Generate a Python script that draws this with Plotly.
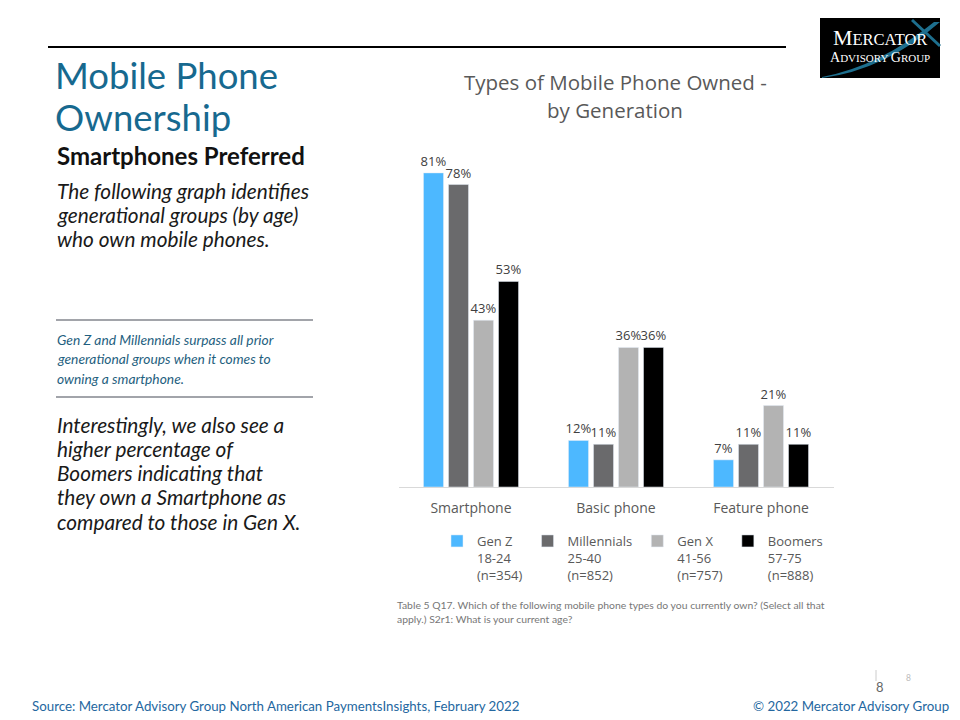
import plotly.graph_objects as go

# ---- data ----
categories = ["Smartphone", "Basic phone", "Feature phone"]
series_names = ["Gen Z<br>18-24<br>(n=354)", "Millennials<br>25-40<br>(n=852)",
                "Gen X<br>41-56<br>(n=757)", "Boomers<br>57-75<br>(n=888)"]
gen_z = [81, 12, 7]
millennials = [78, 11, 11]
gen_x = [43, 36, 21]
boomers = [53, 36, 11]
series_values = [gen_z, millennials, gen_x, boomers]
series_colors = ["#4DB8FF", "#6A6A6C", "#B3B3B3", "#000000"]

# page has an 8px body margin; figure sized to fit inside it
OFF = 8
W, H = 960 - OFF, 720 - OFF
def px(x):
    return (x - OFF) / W
def py(y):
    return 1 - (y - OFF) / H

CAL = "Open Sans, Lato, sans-serif"
LATO = "Lato, Open Sans, sans-serif"

fig = go.Figure()
for name, vals, col in zip(series_names, series_values, series_colors):
    fig.add_trace(go.Bar(
        x=categories, y=vals, name=name, marker_color=col,
        text=[f"{v}%" for v in vals], textposition="outside", constraintext="none",
        textfont=dict(family=CAL, size=13, color="#404040"),
        cliponaxis=False, hoverinfo="skip",
    ))

ann = []
def A(x, y, text, size, color="#222", family=LATO, xanchor="left", yanchor="middle", align="left"):
    ann.append(dict(x=px(x), y=py(y), xref="paper", yref="paper", text=text, showarrow=False,
                    xanchor=xanchor, yanchor=yanchor, align=align,
                    font=dict(size=size, color=color, family=family)))

# left column text
A(53, 75, "Mobile Phone", 36.5, "#17698F")
A(53, 117, "Ownership", 36.5, "#17698F")
A(55, 156, "<b>Smartphones Preferred</b>", 24, "#111")
for i, t in enumerate(["<i>The following graph identifies</i>",
                       "<i>generational groups (by age)</i>",
                       "<i>who own mobile phones.</i>"]):
    A(55, 190 + 24 * i, t, 20.8, "#1a1a1a")
for i, t in enumerate(["<i>Gen Z and Millennials surpass all prior</i>",
                       "<i>generational groups when it comes to</i>",
                       "<i>owning a smartphone.</i>"]):
    A(55, 340 + 19 * i, t, 13.8, "#1F5F80")
for i, t in enumerate(["<i>Interestingly, we also see a</i>",
                       "<i>higher percentage of</i>",
                       "<i>Boomers indicating that</i>",
                       "<i>they own a Smartphone as</i>",
                       "<i>compared to those in Gen X.</i>"]):
    A(55, 424 + 24.3 * i, t, 20.8, "#1a1a1a")

# chart title
A(615, 82, "Types of Mobile Phone Owned -", 20.5, "#595959", CAL, "center")
A(615, 110, "by Generation", 20.5, "#595959", CAL, "center")

# footnote (two lines in one block)
A(395, 612, "Table 5 Q17. Which of the following mobile phone types do you currently own? (Select all that"
  "<br>apply.) S2r1: What is your current age?", 10.4, "#777", LATO)

# footer
A(30, 706, "Source: Mercator Advisory Group North American PaymentsInsights, February 2022", 13.3, "#2467A0")
A(951, 706, "© 2022 Mercator Advisory Group", 13.3, "#2467A0", LATO, "right")
A(880, 687, "8", 13, "#666", LATO, "center")
A(908, 678, "8", 8.5, "#bbb", LATO, "center")

# logo text
A(880, 45, "<span style='font-size:22px'>M</span><span style='font-size:16.5px'>ERCATOR</span><br>"
           "<span style='font-size:14px'>A</span><span style='font-size:11px'>DVISORY </span>"
           "<span style='font-size:14px'>G</span><span style='font-size:11px'>ROUP</span>",
  13, "white", "Liberation Serif, DejaVu Serif, serif", "center", align="center")

shapes = [
    dict(type="line", xref="paper", yref="paper", x0=px(48), x1=px(786), y0=py(47), y1=py(47),
         line=dict(color="black", width=2)),
    dict(type="line", xref="paper", yref="paper", x0=px(56), x1=px(313), y0=py(320), y1=py(320),
         line=dict(color="#A2A4AA", width=2)),
    dict(type="line", xref="paper", yref="paper", x0=px(56), x1=px(313), y0=py(397), y1=py(397),
         line=dict(color="#A2A4AA", width=2)),
    dict(type="line", xref="paper", yref="paper", x0=px(876), x1=px(876), y0=py(670), y1=py(681),
         line=dict(color="#ccc", width=1)),
    # logo box
    dict(type="rect", xref="paper", yref="paper", x0=px(820), x1=px(940), y0=py(18), y1=py(78),
         fillcolor="black", line=dict(width=0), layer="below"),
    dict(type="path", xref="paper", yref="paper",
         path=f"M {px(822)},{py(77)} Q {px(880)},{py(66)} {px(934)},{py(22)} L {px(940)},{py(22)} "
              f"Q {px(885)},{py(70)} {px(822)},{py(78)} Z",
         fillcolor="#1E6F8E", line=dict(width=0), layer="below"),
    dict(type="line", xref="paper", yref="paper", x0=px(912), x1=px(940), y0=py(20), y1=py(46),
         line=dict(color="#1E6F8E", width=3), layer="below"),
]

fig.update_layout(
    width=W, height=H, paper_bgcolor="white", plot_bgcolor="white",
    margin=dict(l=0, r=0, t=0, b=0, autoexpand=False),
    barmode="group", bargap=0.31, bargroupgap=0.2,
    showlegend=True,
    legend=dict(orientation="h", x=px(437), y=py(526), xanchor="left", yanchor="top",
                valign="top", itemwidth=30, traceorder="normal",
                font=dict(family=CAL, size=13, color="#595959"),
                bgcolor="rgba(0,0,0,0)"),
    xaxis=dict(domain=[px(398.5), px(833.5)], showline=True, linecolor="#D9D9D9", linewidth=1,
               ticks="", ticklabelstandoff=8,
               tickfont=dict(family=CAL, size=14, color="#595959"),
               fixedrange=True),
    yaxis=dict(domain=[py(487), py(138)], range=[0, 90], visible=False, showgrid=False,
               fixedrange=True),
    annotations=ann, shapes=shapes,
)

fig.write_html("out.html")
